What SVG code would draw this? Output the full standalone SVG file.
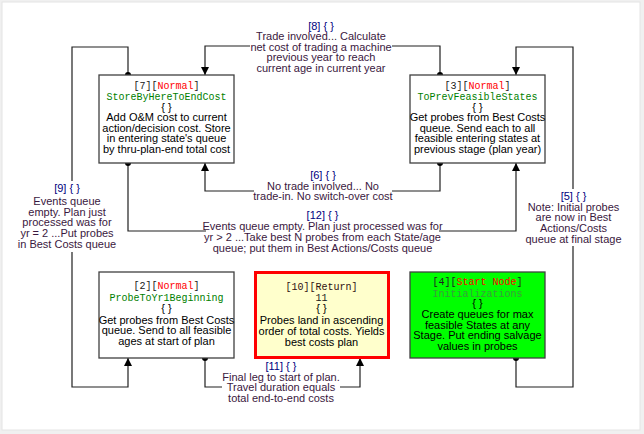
<svg xmlns="http://www.w3.org/2000/svg" width="644" height="434" viewBox="0 0 644 434">
<defs>
<marker id="arr" viewBox="0 0 10 10" refX="10" refY="5" markerWidth="8" markerHeight="8" markerUnits="userSpaceOnUse" orient="auto">
<path d="M0,0 L10,5 L0,10 z" fill="#000"/>
</marker>
<marker id="dot" viewBox="0 0 10 10" refX="5" refY="5" markerWidth="6" markerHeight="6" markerUnits="userSpaceOnUse">
<circle cx="5" cy="5" r="5" fill="#000"/>
</marker>
<style>
.node{fill:#fff;stroke:#404040;stroke-width:1.3}
.nt{font-family:"Liberation Sans",Arial,sans-serif;font-size:11px;text-anchor:middle;fill:#000}
.mono{font-family:"Liberation Mono","DejaVu Sans Mono",monospace;font-size:10px;fill:#202020}
.red{fill:#ff0000}
.name{fill:#008000}
.edge{fill:none;stroke:#202020;stroke-width:1.2}
.lbg{fill:#fff}
.lb{font-family:"Liberation Sans",Arial,sans-serif;font-size:11px;text-anchor:middle;fill:#3a1840}
.lt{fill:#000080}
</style>
</defs>
<rect x="0" y="0" width="644" height="434" fill="#f0f0f0"/>
<rect x="2" y="2" width="638" height="428" fill="#fff" stroke="#e4e4e4"/>

<g id="connectors">
<path class="edge" d="M440,75 V46 H205 V75" marker-start="url(#dot)" marker-end="url(#arr)"/>
<path class="edge" d="M440,163 V191 H205 V163" marker-start="url(#dot)" marker-end="url(#arr)"/>
<path class="edge" d="M128,163 V231 H516 V163" marker-start="url(#dot)" marker-end="url(#arr)"/>
<path class="edge" d="M128,75 V47 H72 V387 H128 V358" marker-start="url(#dot)" marker-end="url(#arr)"/>
<path class="edge" d="M516,358 V387 H573 V47 H516 V75" marker-start="url(#dot)" marker-end="url(#arr)"/>
<path class="edge" d="M205,358 V387 H360 V358" marker-start="url(#dot)" marker-end="url(#arr)"/>

<g id="label8">
<rect class="lbg" x="250" y="18" width="142" height="56"/>
<text class="lb"><tspan class="lt" x="321" y="29.5">[8] { }</tspan><tspan x="321" y="40">Trade involved... Calculate</tspan><tspan x="321" y="50.5">net cost of trading a machine</tspan><tspan x="321" y="61">previous year to reach</tspan><tspan x="321" y="71.7">current age in current year</tspan></text>
</g>
<g id="label6">
<rect class="lbg" x="254" y="168" width="138" height="35"/>
<text class="lb"><tspan class="lt" x="323" y="179">[6] { }</tspan><tspan x="323" y="189.7">No trade involved... No</tspan><tspan x="323" y="200">trade-in. No switch-over cost</tspan></text>
</g>
<g id="label12">
<rect class="lbg" x="206" y="207" width="233" height="48"/>
<text class="lb"><tspan class="lt" x="322.5" y="218.5">[12] { }</tspan><tspan x="322.5" y="229.8">Events queue empty. Plan just processed was for</tspan><tspan x="322.5" y="240.8">yr &gt; 2 ...Take best N probes from each State/age</tspan><tspan x="322.5" y="251.5">queue; put them in Best Actions/Costs queue</tspan></text>
</g>
<g id="label9">
<rect class="lbg" x="20" y="181" width="94" height="71"/>
<text class="lb"><tspan class="lt" x="67" y="192">[9] { }</tspan><tspan x="67" y="204.7">Events queue</tspan><tspan x="67" y="215.7">empty. Plan just</tspan><tspan x="67" y="226.3">processed was for</tspan><tspan x="67" y="237">yr = 2 ...Put probes</tspan><tspan x="67" y="248">in Best Costs queue</tspan></text>
</g>
<g id="label5">
<rect class="lbg" x="528" y="189" width="91" height="57"/>
<text class="lb"><tspan class="lt" x="573.5" y="199.7">[5] { }</tspan><tspan x="573.5" y="210.7">Note: Initial probes</tspan><tspan x="573.5" y="221.3">are now in Best</tspan><tspan x="573.5" y="232">Actions/Costs</tspan><tspan x="573.5" y="242.7">queue at final stage</tspan></text>
</g>
<g id="label11">
<rect class="lbg" x="222" y="360" width="118" height="45"/>
<text class="lb"><tspan class="lt" x="281" y="370">[11] { }</tspan><tspan x="281" y="380.5">Final leg to start of plan.</tspan><tspan x="281" y="391">Travel duration equals</tspan><tspan x="281" y="402">total end-to-end costs</tspan></text>
</g>
</g>

<g id="node7">
<rect class="node" x="99" y="75" width="135" height="88"/>
<text class="nt"><tspan class="mono" x="166.5" y="88.5">[7][<tspan class="red">Normal</tspan>]</tspan><tspan class="mono name" x="166.5" y="100">StoreByHereToEndCost</tspan><tspan x="166.5" y="110.5">{ }</tspan><tspan x="166.5" y="121">Add O&amp;M cost to current</tspan><tspan x="166.5" y="131.7">action/decision cost. Store</tspan><tspan x="166.5" y="142.4">in entering state's queue</tspan><tspan x="166.5" y="153">by thru-plan-end total cost</tspan></text>
</g>

<g id="node3">
<rect class="node" x="410" y="75" width="135" height="88"/>
<text class="nt"><tspan class="mono" x="477.5" y="88.5">[3][<tspan class="red">Normal</tspan>]</tspan><tspan class="mono name" x="477.5" y="100">ToPrevFeasibleStates</tspan><tspan x="477.5" y="110.5">{ }</tspan><tspan x="477.5" y="121">Get probes from Best Costs</tspan><tspan x="477.5" y="131.7">queue. Send each to all</tspan><tspan x="477.5" y="142.4">feasible entering states at</tspan><tspan x="477.5" y="153">previous stage (plan year)</tspan></text>
</g>

<g id="node2">
<rect class="node" x="99" y="272" width="135" height="86"/>
<text class="nt"><tspan class="mono" x="166.5" y="289">[2][<tspan class="red">Normal</tspan>]</tspan><tspan class="mono name" x="166.5" y="300.5">ProbeToYr1Beginning</tspan><tspan x="166.5" y="311.5">{ }</tspan><tspan x="166.5" y="323.5">Get probes from Best Costs</tspan><tspan x="166.5" y="334">queue. Send to all feasible</tspan><tspan x="166.5" y="345">ages at start of plan</tspan></text>
</g>

<g id="node10">
<rect x="255.5" y="272.5" width="133" height="85" fill="#ffffcc" stroke="#ff0000" stroke-width="3"/>
<text class="nt"><tspan class="mono" x="321.5" y="289.5" style="fill:#301010">[10][Return]</tspan><tspan class="mono" x="321.5" y="301">11</tspan><tspan x="321.5" y="311.5">{ }</tspan><tspan x="321.5" y="324">Probes land in ascending</tspan><tspan x="321.5" y="334.5">order of total costs. Yields</tspan><tspan x="321.5" y="345.5">best costs plan</tspan></text>
</g>

<g id="node4">
<rect x="410" y="272" width="135" height="86" fill="#00ff00" stroke="#404040" stroke-width="1.3"/>
<text class="nt"><tspan class="mono" x="477.5" y="285">[4][<tspan class="red">Start Node</tspan>]</tspan><tspan class="mono" x="477.5" y="296.5" style="fill:#3c9c3c">Initializations</tspan><tspan x="477.5" y="307">{ }</tspan><tspan x="477.5" y="318">Create queues for max</tspan><tspan x="477.5" y="328.7">feasible States at any</tspan><tspan x="477.5" y="339.4">Stage. Put ending salvage</tspan><tspan x="477.5" y="350">values in probes</tspan></text>
</g>
</svg>
